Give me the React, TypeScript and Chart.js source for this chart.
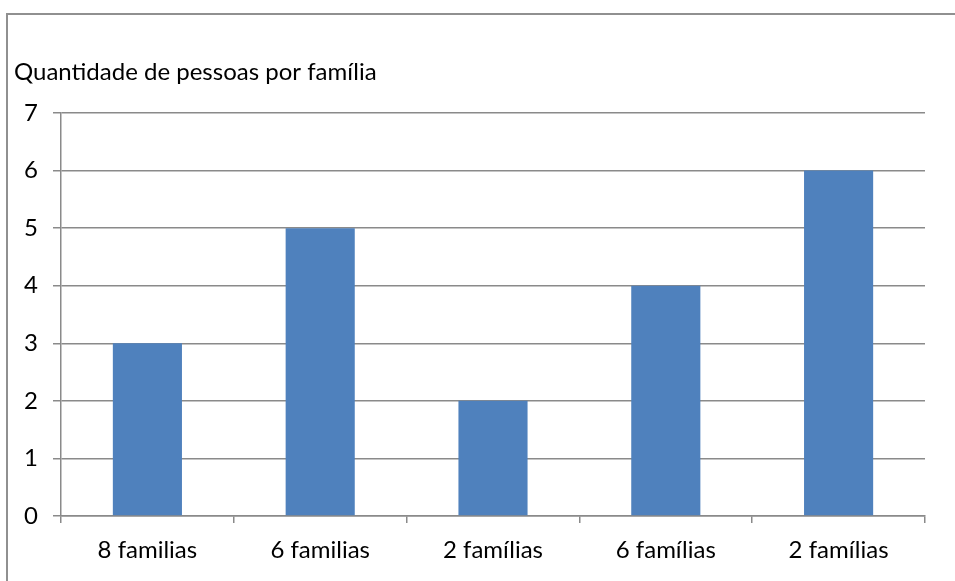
import React, { useEffect, useRef } from "react";
import { Chart, registerables } from "chart.js";

Chart.register(...registerables);

const TITLE = "Quantidade de pessoas por família";
const categories = ["8 familias", "6 familias", "2 famílias", "6 famílias", "2 famílias"];
const values = [3, 5, 2, 4, 6];
const yTicks = [0, 1, 2, 3, 4, 5, 6, 7];

const FONT = "Lato, 'Noto Sans', sans-serif";
const GRID = "#8a8a8a";

export default function App() {
  const ref = useRef<HTMLCanvasElement | null>(null);
  useEffect(() => {
    if (!ref.current) return;
    const chart = new Chart(ref.current, {
      type: "bar",
      data: {
        labels: categories,
        datasets: [
          {
            data: values,
            backgroundColor: "#4F81BD",
            barPercentage: 0.4,
            categoryPercentage: 1,
          },
        ],
      },
      options: {
        animation: false,
        responsive: false,
        devicePixelRatio: 1,
        layout: { padding: { left: 14, right: 30, top: 0, bottom: 0 } },
        plugins: {
          legend: { display: false },
          tooltip: { enabled: false },
          title: {
            display: true,
            text: TITLE,
            align: "start",
            color: "#000",
            font: { family: FONT, size: 24, weight: "normal", lineHeight: 1.2 },
            padding: { top: 57.6, bottom: 26.6 },
          },
        },
        scales: {
          x: {
            offset: true,
            grid: {
              offset: true,
              drawOnChartArea: false,
              drawTicks: true,
              tickLength: 7,
              color: GRID,
              lineWidth: 1.5,
            },
            border: { display: true, color: GRID, width: 1.5 },
            ticks: {
              color: "#000",
              font: { family: FONT, size: 24 },
              padding: 12.6,
              maxRotation: 0,
            },
            afterFit: (s: any) => {
              s.height = 65;
            },
          },
          y: {
            min: 0,
            max: 7,
            afterBuildTicks: (s: any) => {
              s.ticks = yTicks.map((v) => ({ value: v }));
            },
            grid: {
              color: GRID,
              lineWidth: 1.5,
              tickLength: 8,
            },
            border: { display: true, color: GRID, width: 1.5 },
            ticks: {
              color: "#000",
              font: { family: FONT, size: 24 },
              padding: 15,
            },
            afterFit: (s: any) => {
              s.width = 47;
            },
          },
        },
      },
    });
    return () => chart.destroy();
  }, []);
  return (
    <div style={{ position: "fixed", left: 0, top: 0, width: 955, height: 581, background: "#fff", overflow: "hidden" }}>
      <div
        style={{
          position: "absolute",
          left: 6,
          top: 13,
          width: 1000,
          height: 700,
          borderLeft: "2px solid #909090",
          borderTop: "2px solid #909090",
        }}
      />
      <canvas ref={ref} width={955} height={581} style={{ position: "absolute", left: 0, top: 0 }} />
    </div>
  );
}
